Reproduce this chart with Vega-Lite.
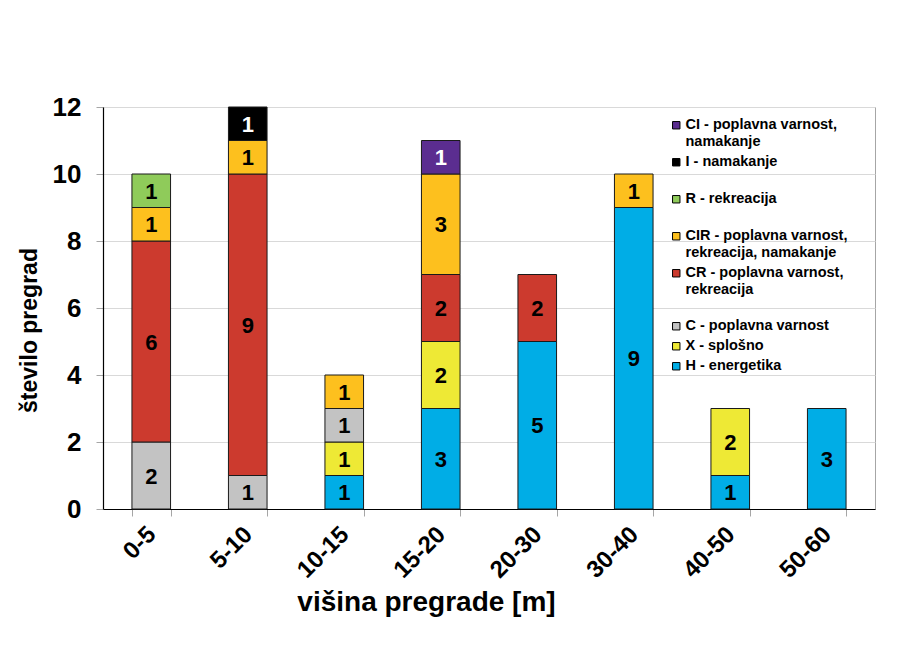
{
  "$schema": "https://vega.github.io/schema/vega-lite/v6.json",
  "width": 772,
  "height": 402,
  "autosize": {"type": "none"},
  "padding": {"left": 103, "top": 107, "right": 29, "bottom": 159},
  "background": "white",
  "config": {
    "font": "Liberation Sans",
    "view": {"stroke": "#A6A6A6", "strokeWidth": 1}
  },
  "data": {
    "values": [
      {"visina": "0-5", "kod": "C", "stevilo": 2},
      {"visina": "0-5", "kod": "CR", "stevilo": 6},
      {"visina": "0-5", "kod": "CIR", "stevilo": 1},
      {"visina": "0-5", "kod": "R", "stevilo": 1},
      {"visina": "5-10", "kod": "C", "stevilo": 1},
      {"visina": "5-10", "kod": "CR", "stevilo": 9},
      {"visina": "5-10", "kod": "CIR", "stevilo": 1},
      {"visina": "5-10", "kod": "I", "stevilo": 1},
      {"visina": "10-15", "kod": "H", "stevilo": 1},
      {"visina": "10-15", "kod": "X", "stevilo": 1},
      {"visina": "10-15", "kod": "C", "stevilo": 1},
      {"visina": "10-15", "kod": "CIR", "stevilo": 1},
      {"visina": "15-20", "kod": "H", "stevilo": 3},
      {"visina": "15-20", "kod": "X", "stevilo": 2},
      {"visina": "15-20", "kod": "CR", "stevilo": 2},
      {"visina": "15-20", "kod": "CIR", "stevilo": 3},
      {"visina": "15-20", "kod": "CI", "stevilo": 1},
      {"visina": "20-30", "kod": "H", "stevilo": 5},
      {"visina": "20-30", "kod": "CR", "stevilo": 2},
      {"visina": "30-40", "kod": "H", "stevilo": 9},
      {"visina": "30-40", "kod": "CIR", "stevilo": 1},
      {"visina": "40-50", "kod": "H", "stevilo": 1},
      {"visina": "40-50", "kod": "X", "stevilo": 2},
      {"visina": "50-60", "kod": "H", "stevilo": 3}
    ]
  },
  "transform": [
    {"calculate": "indexof(['H','X','C','CR','CIR','R','I','CI'], datum.kod)", "as": "red"},
    {"stack": "stevilo", "groupby": ["visina"], "sort": [{"field": "red", "order": "ascending"}], "as": ["v0", "v1"]},
    {"calculate": "(datum.v0 + datum.v1) / 2", "as": "vsred"}
  ],
  "layer": [
    {
      "mark": {"type": "bar", "stroke": "#1a1a1a", "strokeWidth": 1},
      "encoding": {
        "x": {
          "field": "visina",
          "type": "nominal",
          "sort": ["0-5", "5-10", "10-15", "15-20", "20-30", "30-40", "40-50", "50-60"],
          "scale": {"paddingInner": 0.6, "paddingOuter": 0.3},
          "axis": {
            "title": "višina pregrade [m]",
            "titleFontSize": 28,
            "titleFontWeight": "bold",
            "titleColor": "#000",
            "titleX": 323,
            "titleY": 79,
            "titleBaseline": "top",
            "titleAnchor": "middle",
            "titleAlign": "center",
            "labelAngle": -45,
            "labelFontSize": 24,
            "labelFontWeight": "bold",
            "labelColor": "#000",
            "labelPadding": 6,
            "labelOffset": -8,
            "tickBand": "extent",
            "tickColor": "#A6A6A6",
            "tickSize": 7,
            "domainColor": "#000",
            "domainWidth": 1.2
          }
        },
        "y": {
          "field": "v0",
          "type": "quantitative",
          "scale": {"domain": [0, 12], "nice": false},
          "axis": {
            "title": "število pregrad",
            "titleFontSize": 23,
            "titleFontWeight": "bold",
            "titleColor": "#000",
            "titlePadding": 11,
            "titleY": 223,
            "titleAnchor": "middle",
            "titleAlign": "center",
            "values": [0, 2, 4, 6, 8, 10, 12],
            "labelFontSize": 26,
            "labelFontWeight": "bold",
            "labelColor": "#000",
            "labelPadding": 15,
            "tickColor": "#A6A6A6",
            "tickSize": 7,
            "domainColor": "#000",
            "domainWidth": 1.2,
            "gridColor": "#D9D9D9",
            "gridWidth": 1
          }
        },
        "y2": {"field": "v1"},
        "color": {
          "field": "kod",
          "type": "nominal",
          "scale": {
            "domain": ["CI", "I", "R", "CIR", "CR", "C", "X", "H"],
            "range": ["#5B2D90", "#000000", "#8FCB5A", "#FDC01E", "#CC3A2E", "#C3C3C3", "#EEE935", "#00ADE6"]
          },
          "legend": {
            "orient": "none",
            "legendX": 566,
            "legendY": 11,
            "title": null,
            "symbolType": "square",
            "symbolSize": 55,
            "symbolStrokeColor": "#000",
            "symbolStrokeWidth": 1,
            "labelFontSize": 14.5,
            "labelFontWeight": "bold",
            "labelColor": "#000",
            "labelOffset": 2,
            "labelLimit": 300,
            "rowPadding": 5,
            "labelExpr": "datum.label == 'CI' ? ['CI - poplavna varnost,', '  namakanje'] : datum.label == 'I' ? ['I - namakanje', ' '] : datum.label == 'R' ? ['R - rekreacija', ' '] : datum.label == 'CIR' ? ['CIR - poplavna varnost,', '  rekreacija, namakanje'] : datum.label == 'CR' ? ['CR - poplavna varnost,', '  rekreacija', ' '] : datum.label == 'C' ? 'C - poplavna varnost' : datum.label == 'X' ? 'X - splošno' : 'H - energetika'"
          }
        }
      }
    },
    {
      "mark": {"type": "text", "fontSize": 22, "fontWeight": "bold", "baseline": "middle", "align": "center", "dy": 1},
      "encoding": {
        "x": {"field": "visina", "type": "nominal", "sort": ["0-5", "5-10", "10-15", "15-20", "20-30", "30-40", "40-50", "50-60"]},
        "y": {"field": "vsred", "type": "quantitative"},
        "text": {"field": "stevilo", "type": "quantitative"},
        "color": {
          "condition": {"test": "datum.kod == 'I' || datum.kod == 'CI'", "value": "#ffffff"},
          "value": "#000000"
        }
      }
    }
  ]
}
